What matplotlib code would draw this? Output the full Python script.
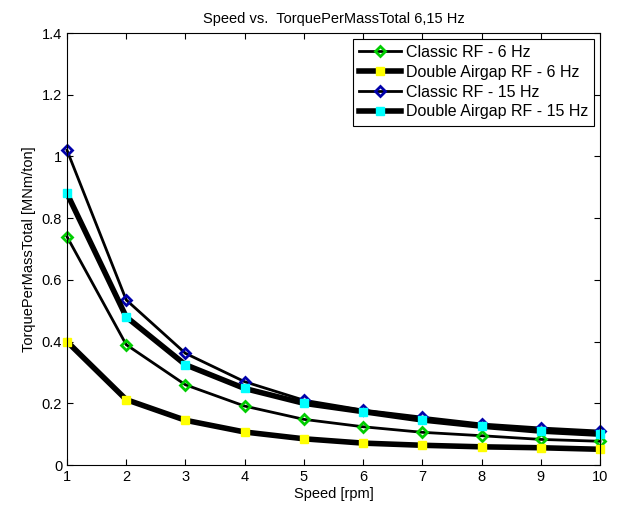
import matplotlib
matplotlib.use("Agg")
import matplotlib.pyplot as plt

plt.rcParams['font.family'] = ['Liberation Sans', 'DejaVu Sans']

speed = [1, 2, 3, 4, 5, 6, 7, 8, 9, 10]
classic_6 = [0.74, 0.39, 0.26, 0.191, 0.148, 0.124, 0.106, 0.095, 0.083, 0.077]
double_6 = [0.40, 0.212, 0.145, 0.107, 0.085, 0.071, 0.064, 0.059, 0.056, 0.051]
classic_15 = [1.02, 0.535, 0.362, 0.27, 0.21, 0.178, 0.155, 0.133, 0.12, 0.11]
double_15 = [0.88, 0.48, 0.325, 0.248, 0.2, 0.173, 0.146, 0.126, 0.11, 0.10]

fig = plt.figure(figsize=(6.17, 5.08), dpi=100)
ax = fig.add_axes([0.1086, 0.0846, 0.8638, 0.8504])

ax.plot(speed, classic_6, color='black', lw=2, marker='D', ms=5,
        mfc='none', mec='#00cc00', mew=2, label='Classic RF - 6 Hz', clip_on=False)
ax.plot(speed, double_6, color='black', lw=4, marker='s', ms=6,
        mfc='#ffff00', mec='#ffff00', label='Double Airgap RF - 6 Hz', clip_on=False)
ax.plot(speed, classic_15, color='black', lw=2, marker='D', ms=5,
        mfc='none', mec='#0000aa', mew=2, label='Classic RF - 15 Hz', clip_on=False)
ax.plot(speed, double_15, color='black', lw=4, marker='s', ms=6,
        mfc='#00ffff', mec='#00ffff', label='Double Airgap RF - 15 Hz', clip_on=False)

ax.set_xlim(1, 10)
ax.set_ylim(0, 1.4)
ax.set_xticks(speed)
ax.set_yticks([0, 0.2, 0.4, 0.6, 0.8, 1.0, 1.2, 1.4])
ax.set_yticklabels(['0', '0.2', '0.4', '0.6', '0.8', '1', '1.2', '1.4'])
ax.tick_params(direction='in', top=True, right=True, labelsize=10.5, length=4)
ax.set_xlabel('Speed [rpm]', fontsize=10.5, labelpad=2)
ax.set_ylabel('TorquePerMassTotal [MNm/ton]', fontsize=10.5)
ax.set_title('Speed vs.  TorquePerMassTotal 6,15 Hz', fontsize=10.5, pad=7)

leg = ax.legend(loc='upper right', fontsize=11.5, fancybox=False, framealpha=1,
                edgecolor='black', handlelength=2.6, borderpad=0.4,
                labelspacing=0.3, handletextpad=0.3, borderaxespad=0.35)
leg.get_frame().set_linewidth(0.8)

fig.savefig('out.png', dpi=100)
